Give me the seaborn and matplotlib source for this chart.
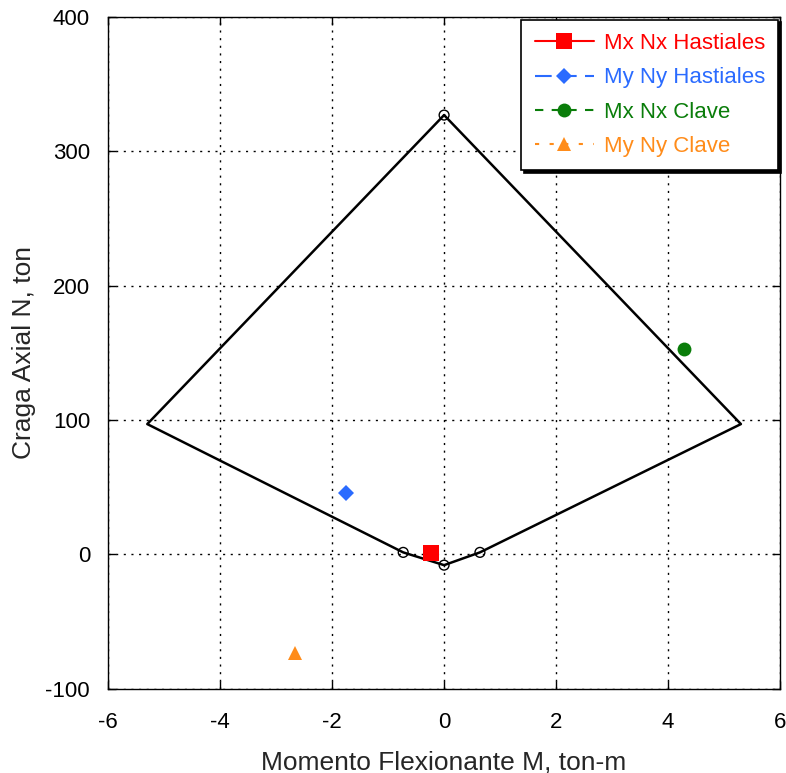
import matplotlib
matplotlib.use("Agg")
import matplotlib.pyplot as plt
import seaborn as sns
import pandas as pd

sns.set_theme(style="white")
plt.rcParams["font.family"] = ["Liberation Sans", "DejaVu Sans"]
plt.rcParams["axes.unicode_minus"] = False

# Interaction diagram outline (closed polygon)
diag_m = [0.0, 5.30, 0.64, 0.0, -0.73, -5.30, 0.0]
diag_n = [327.0, 97.0, 1.5, -8.0, 1.5, 97.0, 327.0]
# Vertices marked with open circles
vert_m = [0.0, 0.64, 0.0, -0.73]
vert_n = [327.0, 1.5, -8.0, 1.5]

# Load cases
series = ["Mx Nx Hastiales", "My Ny Hastiales", "Mx Nx Clave", "My Ny Clave"]
case_m = [-0.23, -1.75, 4.29, -2.66]
case_n = [0.7, 46.0, 153.0, -73.6]
colors = ["#ff0000", "#2a6bff", "#0a7d0a", "#ff8c1a"]
markers = ["s", "D", "o", "^"]
marker_sizes = [11, 8, 10, 10]
linestyles = ["-", (0, (8, 4)), (0, (4, 4)), (0, (2, 5))]

fig, ax = plt.subplots(figsize=(7.86, 7.73), dpi=100)
fig.subplots_adjust(left=0.1375, right=0.9925, top=0.978, bottom=0.109)

diag = pd.DataFrame({"M": diag_m, "N": diag_n})
sns.lineplot(data=diag, x="M", y="N", sort=False, color="black", lw=1.8, ax=ax,
             estimator=None)
verts = pd.DataFrame({"M": vert_m, "N": vert_n})
sns.scatterplot(data=verts, x="M", y="N", facecolor="none", edgecolor="black",
                s=50, linewidth=1.0, ax=ax, zorder=4)

for name, m, n, c, mk, ms, ls in zip(series, case_m, case_n, colors, markers,
                                     marker_sizes, linestyles):
    ax.plot([m], [n], marker=mk, color=c, markersize=ms, linestyle=ls,
            label=name, zorder=5, markeredgewidth=0)

ax.set_xlim(-6, 6)
ax.set_ylim(-100, 400)
ax.set_xticks(range(-6, 7, 2))
ax.set_yticks(range(-100, 401, 100))
ax.grid(True, color="black", linestyle=(0, (1.5, 4)), linewidth=1.0)
for s in ax.spines.values():
    s.set_color("black")
    s.set_linewidth(1.0)
ax.tick_params(direction="in", length=6, width=1, colors="black",
               labelsize=16, top=True, right=True, bottom=True, left=True)
ax.tick_params(axis="x", pad=17)
ax.tick_params(axis="y", pad=13)
ax.set_xlabel("Momento Flexionante M, ton-m", fontsize=19, labelpad=12)
ax.set_ylabel("Craga Axial N, ton", fontsize=19, labelpad=7)

leg = ax.legend(loc="upper right", bbox_to_anchor=(0.997, 0.996), fontsize=16,
                frameon=True, fancybox=False, shadow={"color": "black", "alpha": 1},
                handlelength=2.65, handletextpad=0.45, borderpad=0.6,
                labelspacing=0.6, edgecolor="black", framealpha=1,
                borderaxespad=0.0)
leg.get_frame().set_linewidth(1.2)
for txt, c in zip(leg.get_texts(), colors):
    txt.set_color(c)

fig.savefig("out.png", dpi=100)
